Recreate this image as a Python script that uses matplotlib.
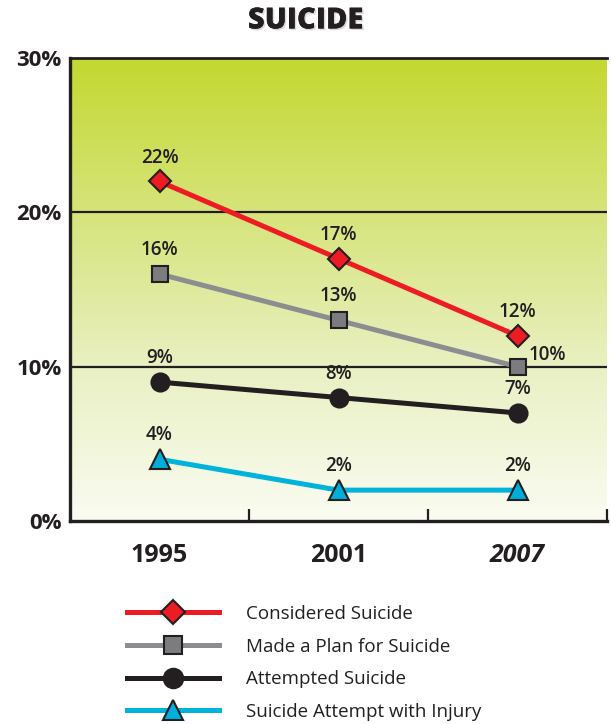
import numpy as np
import matplotlib
matplotlib.use("Agg")
import matplotlib.pyplot as plt
from matplotlib.lines import Line2D
from matplotlib.colors import LinearSegmentedColormap
import matplotlib.patheffects as pe

plt.rcParams['font.family'] = ['Open Sans', 'DejaVu Sans']

years = ["1995", "2001", "2007"]
considered = [22, 17, 12]
made_plan = [16, 13, 10]
attempted = [9, 8, 7]
attempt_injury = [4, 2, 2]
y_ticks = [0, 10, 20, 30]
y_tick_labels = ["0%", "10%", "20%", "30%"]
series_names = ["Considered Suicide", "Made a Plan for Suicide",
                "Attempted Suicide", "Suicide Attempt with Injury"]

INK = "#231F20"
series = [
    (considered, "#ED1C24", "#ED1C24", "D", 11.0),
    (made_plan, "#8C8D90", "#7B7C80", "s", 11.5),
    (attempted, INK, INK, "o", 13.0),
    (attempt_injury, "#00B3DB", "#00AEDB", "^", 14.0),
]

fig = plt.figure(figsize=(6.11, 7.24), dpi=100)
ax = fig.add_axes([70 / 611, 1 - 521 / 724, 537 / 611, 463 / 724])

x = np.arange(len(years))
ax.set_xlim(-0.5, 2.5)
ax.set_ylim(0, 30)

# vertical yellow-green to white gradient behind the plot
grad = LinearSegmentedColormap.from_list(
    "bg", ["#FAFCF1", "#E9F0C2", "#D6E47A", "#C3D830"])
g = np.linspace(0, 1, 256).reshape(-1, 1)
ax.imshow(g, cmap=grad, aspect="auto", origin="lower",
          extent=(-0.5, 2.5, 0, 30), zorder=0)

for yv in (10, 20):
    ax.axhline(yv, color=INK, lw=1.6, zorder=1)

for vals, lc, mc, mk, ms in series:
    ax.plot(x, vals, color=lc, lw=3.6, zorder=3, solid_capstyle="butt")
    ax.plot(x, vals, linestyle="none", marker=mk, markersize=ms,
            markerfacecolor=mc, markeredgecolor=INK, markeredgewidth=1.5,
            zorder=4)

# value labels
label_kw = dict(fontsize=13.5, fontweight="semibold", color=INK,
                ha="center", va="bottom", zorder=5)
for vals, lc, mc, mk, ms in series:
    for xi, v in zip(x, vals):
        if vals is made_plan and xi == 2:
            ax.annotate(f"{v}%", (xi, v), xytext=(8, 1),
                        textcoords="offset points", fontsize=13.5,
                        fontweight="semibold", color=INK,
                        ha="left", va="bottom", zorder=5)
        else:
            ax.annotate(f"{v}%", (xi, v), xytext=(0, 10),
                        textcoords="offset points", **label_kw)

# axes frame
for side in ("left", "bottom", "top"):
    ax.spines[side].set_color(INK)
ax.spines["left"].set_linewidth(2.4)
ax.spines["bottom"].set_linewidth(2.4)
ax.spines["top"].set_linewidth(2.0)
ax.spines["right"].set_visible(False)

ax.set_yticks(y_ticks)
ax.set_yticklabels(y_tick_labels, fontsize=16, fontweight="bold", color=INK)
ax.tick_params(axis="y", length=0, pad=6)

ax.set_xticks(x)
ax.set_xticklabels(years, fontsize=18, fontweight="bold", color=INK)
ax.get_xticklabels()[2].set_style("italic")
ax.tick_params(axis="x", which="major", length=0, pad=16)
ax.set_xticks([0.5, 1.5, 2.5], minor=True)
ax.tick_params(axis="x", which="minor", direction="in", length=9,
               width=1.6, color=INK)

fig.text(0.5, 1 - 21 / 724, "SUICIDE", fontsize=21, fontweight="heavy",
         color=INK, ha="center", va="center",
         path_effects=[pe.withSimplePatchShadow(offset=(1.2, -1.2),
                                               shadow_rgbFace="#999999",
                                               alpha=0.35),
                       pe.Normal()])

handles = [Line2D([], [], color=lc, lw=3.6, marker=mk, markersize=ms + 1,
                  markerfacecolor=mc, markeredgecolor=INK,
                  markeredgewidth=1.5)
           for _, lc, mc, mk, ms in series]
fig.legend(handles, series_names, loc="upper left",
           bbox_to_anchor=(110 / 611, 1 - 588 / 724), frameon=False,
           fontsize=13.5, handlelength=4.9, handletextpad=1.45,
           labelspacing=0.78, labelcolor=INK)

fig.savefig("out.png", dpi=100)
